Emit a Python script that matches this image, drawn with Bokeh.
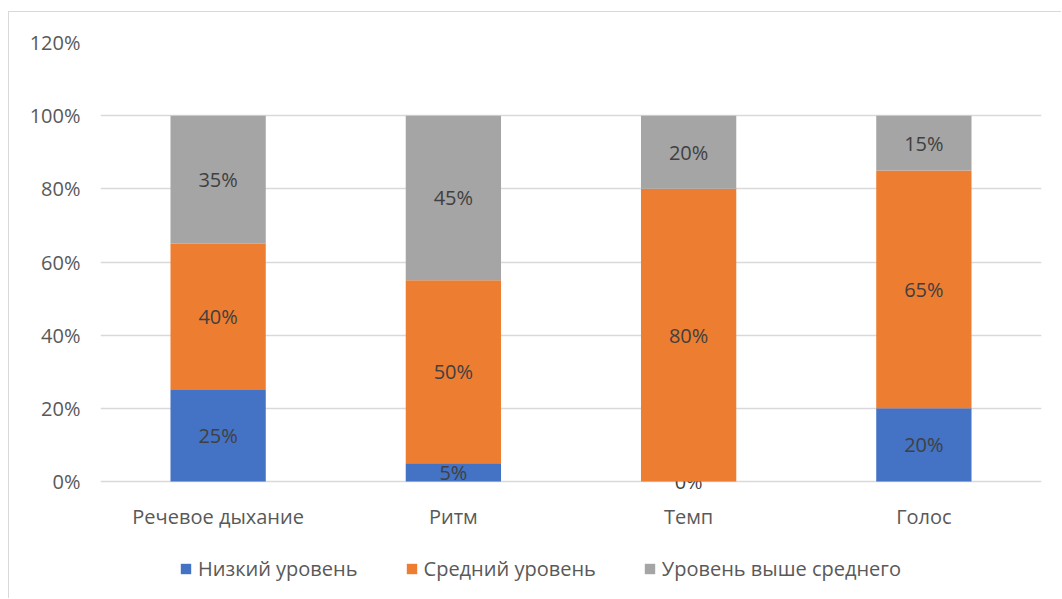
from bokeh.plotting import figure
from bokeh.models import ColumnDataSource, Range1d, FixedTicker, NumeralTickFormatter, Legend, LegendItem
from bokeh.core.properties import value
from bokeh.embed import file_html
from bokeh.resources import INLINE

categories = ["Речевое дыхание", "Ритм", "Темп", "Голос"]
low = [0.25, 0.05, 0.00, 0.20]
mid = [0.40, 0.50, 0.80, 0.65]
high = [0.35, 0.45, 0.20, 0.15]
series_names = ["Низкий уровень", "Средний уровень", "Уровень выше среднего"]
colors = ["#4472C4", "#ED7D31", "#A5A5A5"]
y_ticks = [0, 0.2, 0.4, 0.6, 0.8, 1.0, 1.2]

FONT = "Open Sans"
FS = "20px"

p = figure(x_range=categories, y_range=Range1d(-0.3034, 1.2),
           width=1053, height=587, output_backend="svg", toolbar_location=None,
           min_border_left=91, min_border_right=21, min_border_top=30, min_border_bottom=7,
           styles={"margin": "11px 0 0 8px", "border-top": "1px solid #d9d9d9",
                   "border-left": "1px solid #d9d9d9"})
p.outline_line_color = None
p.background_fill_color = "white"
p.border_fill_color = "white"

p.xgrid.grid_line_color = None
p.ygrid.grid_line_color = "#d9d9d9"
p.ygrid.grid_line_width = 1.3

p.yaxis.ticker = FixedTicker(ticks=y_ticks)
p.yaxis.formatter = NumeralTickFormatter(format="0%")
p.yaxis.axis_line_color = None
p.yaxis.major_tick_line_color = None
p.yaxis.minor_tick_line_color = None
p.yaxis.major_label_standoff = 14
p.yaxis.major_label_text_font = FONT
p.yaxis.major_label_text_font_size = FS
p.yaxis.major_label_text_color = "#595959"

p.xaxis.axis_line_color = None
p.xaxis.major_tick_line_color = None
p.xaxis.minor_tick_line_color = None
p.xaxis.major_label_standoff = -96
p.xaxis.major_label_text_font = FONT
p.xaxis.major_label_text_font_size = FS
p.xaxis.major_label_text_color = "#595959"

series = [low, mid, high]
bottoms = [0.0] * len(categories)
legend_items = []
for name, vals, col in zip(series_names, series, colors):
    tops = [b + v for b, v in zip(bottoms, vals)]
    mids = [(b + t) / 2 for b, t in zip(bottoms, tops)]
    src = ColumnDataSource(dict(x=categories, bottom=bottoms, top=tops, mid=mids,
                                label=[f"{round(v * 100)}%" for v in vals]))
    r = p.vbar(x="x", bottom="bottom", top="top", width=0.405, source=src,
               fill_color=col, line_color=None)
    p.text(x="x", y="mid", text="label", source=src, text_align="center",
           text_baseline="middle", text_font=value(FONT), text_font_size=FS,
           text_color="#404040")
    legend_items.append(LegendItem(label=name, renderers=[r]))
    bottoms = tops

legend = Legend(items=legend_items, orientation="horizontal", location=(79, 10),
                glyph_width=13, glyph_height=13, label_standoff=6, spacing=47,
                padding=0, margin=0, border_line_color=None, background_fill_alpha=0,
                label_text_font=FONT, label_text_font_size=FS,
                label_text_color="#595959")
p.add_layout(legend, "center")

open("out.html", "w").write(file_html(p, INLINE))
